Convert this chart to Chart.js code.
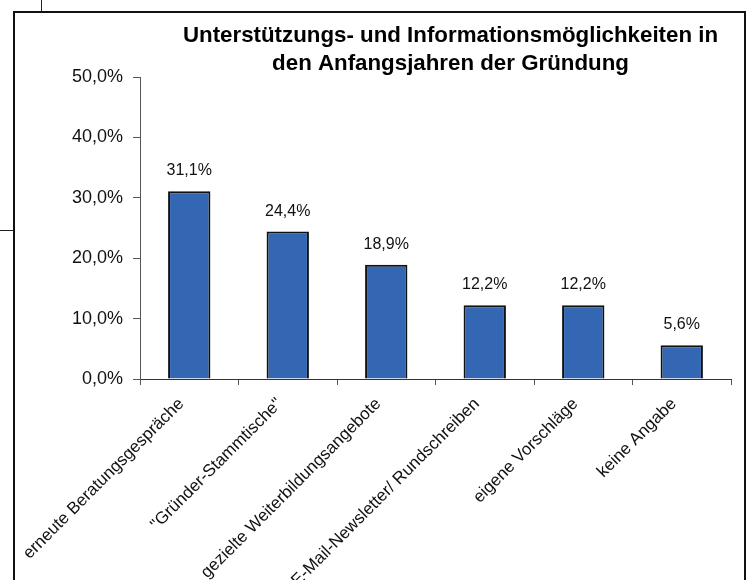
<!DOCTYPE html>
<html>
<head>
<meta charset="utf-8">
<script src="https://cdn.jsdelivr.net/npm/chart.js@4"></script>
<style>
  html, body { margin: 0; padding: 0; background: #fff; overflow: hidden; }
  #wrap { position: absolute; left: 0; top: 0; width: 750px; height: 580px; z-index: 1; }
  #frame { position: absolute; left: 13px; top: 11px; width: 729px; height: 600px; border: 2px solid #111; border-bottom: none; z-index: 2; pointer-events: none; }
  .stray { position: absolute; background: #222; z-index: 2; }
</style>
</head>
<body>
<div id="wrap"><canvas id="chart" width="750" height="580"></canvas></div>
<div id="frame"></div>
<div class="stray" style="left:41px;top:0;width:1px;height:11px"></div>
<div class="stray" style="left:0;top:230px;width:13px;height:1px"></div>
<script>
const titleLines = ['Unterstützungs- und Informationsmöglichkeiten in', 'den Anfangsjahren der Gründung'];
const categories = [
  'erneute Beratungsgespräche',
  '"Gründer-Stammtische"',
  'gezielte Weiterbildungsangebote',
  'E-Mail-Newsletter/ Rundschreiben',
  'eigene Vorschläge',
  'keine Angabe'
];
const shares = [31.1, 24.4, 18.9, 12.2, 12.2, 5.6];
const yTicks = [0, 10, 20, 30, 40, 50];

const fmt = v => v.toFixed(1).replace('.', ',') + '%';

Chart.defaults.font.family = '"Liberation Sans", Arial, sans-serif';
Chart.defaults.color = '#000';

// value labels above the bars + two-line title
const labelsPlugin = {
  id: 'barLabels',
  afterDatasetsDraw(chart) {
    const ctx = chart.ctx;
    const meta = chart.getDatasetMeta(0);
    ctx.save();
    ctx.font = '16px "Liberation Sans", Arial, sans-serif';
    ctx.fillStyle = '#111';
    ctx.textAlign = 'center';
    ctx.textBaseline = 'alphabetic';
    meta.data.forEach((bar, i) => {
      ctx.fillText(fmt(shares[i]), bar.x, bar.y - 16);
    });
    ctx.font = 'bold 22.3px "Liberation Sans", Arial, sans-serif';
    ctx.fillStyle = '#000';
    const cx = (chart.chartArea.left + chart.chartArea.right) / 2 + 15;
    ctx.fillText(titleLines[0], cx, 42);
    ctx.fillText(titleLines[1], cx, 70);
    ctx.restore();
  }
};

new Chart(document.getElementById('chart').getContext('2d'), {
  type: 'bar',
  data: {
    labels: categories,
    datasets: [{
      data: shares,
      backgroundColor: '#3366b3',
      borderColor: '#111',
      borderWidth: 2,
      categoryPercentage: 1,
      barPercentage: 0.43
    }]
  },
  options: {
    responsive: false,
    animation: false,
    layout: { padding: { top: 77, right: 19, bottom: 0, left: 0 } },
    plugins: {
      legend: { display: false },
      tooltip: { enabled: false }
    },
    scales: {
      x: {
        afterFit: s => { s.height = 201; },
        grid: { drawOnChartArea: false, tickLength: 6, color: '#555', offset: true },
        border: { color: '#333', width: 1 },
        ticks: {
          autoSkip: false,
          maxRotation: 45,
          minRotation: 45,
          padding: 9,
          labelOffset: -8,
          font: { size: 17 },
          color: '#111'
        }
      },
      y: {
        min: 0,
        max: 50,
        afterFit: s => { s.width = 140; },
        afterBuildTicks: s => { s.ticks = yTicks.map(v => ({ value: v })); },
        grid: { drawOnChartArea: false, tickLength: 7, color: '#555' },
        border: { color: '#555', width: 1 },
        ticks: {
          padding: 10,
          font: { size: 18 },
          color: '#111',
          callback: v => fmt(v)
        }
      }
    }
  },
  plugins: [labelsPlugin]
});
</script>
</body>
</html>
